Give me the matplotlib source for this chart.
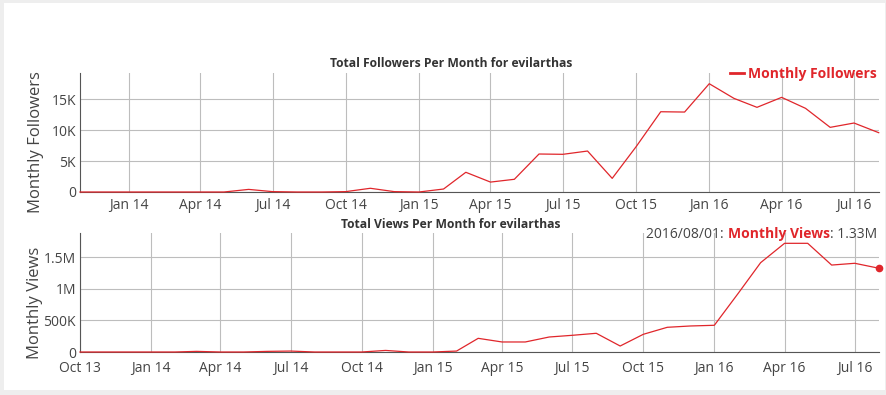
import numpy as np
import pandas as pd
import matplotlib
matplotlib.use("Agg")
import matplotlib.pyplot as plt
import matplotlib.dates as mdates
from matplotlib.offsetbox import TextArea, HPacker, AnchoredOffsetbox

plt.rcParams['font.family'] = ['Open Sans', 'DejaVu Sans']

# data (monthly)
follower_months = pd.date_range("2013-11-01", "2016-08-01", freq="MS")
followers = [0, 0, 0, 0, 0, 0, 0, 420, 60, 0, 0, 60, 600, 60, 0, 480,
             3180, 1600, 2050, 6130, 6080, 6610, 2200, 7300, 12950, 12900,
             17470, 15110, 13660, 15270, 13500, 10430, 11130, 9570]

view_months = pd.date_range("2013-10-01", "2016-08-01", freq="MS")
views = [0, 0, 0, 0, 0, 10e3, 0, 0, 10e3, 15e3, 0, 0, 0, 25e3, 0, 0, 15e3,
         217e3, 159e3, 159e3, 238e3, 265e3, 297e3, 95e3, 281e3, 392e3,
         413e3, 424e3, 932e3, 1418e3, 1725e3, 1725e3, 1380e3, 1408e3, 1330e3]

follower_ticks = [0, 5000, 10000, 15000]
follower_tick_labels = ["0", "5K", "10K", "15K"]
view_ticks = [0, 500e3, 1e6, 1.5e6]
view_tick_labels = ["0", "500K", "1M", "1.5M"]

RED = "#e0262b"
GRID = "#bdbdbd"
TXT = "#444444"

W, H = 887, 395
fig = plt.figure(figsize=(W / 100, H / 100), dpi=100)
fig.patch.set_facecolor("#eeeeee")
fig.add_artist(plt.Rectangle((4 / W, 1 - 390 / H), 881 / W, 387 / H,
                             transform=fig.transFigure, facecolor="white",
                             edgecolor="none", zorder=0))

ax1 = fig.add_axes([80 / W, 1 - 192 / H, 798.7 / W, 119 / H])
ax2 = fig.add_axes([80 / W, 1 - 352 / H, 798.7 / W, 118.7 / H])


def style(ax, ticks, labels, ymax, xmin, xticks, xpad):
    ax.set_facecolor("none")
    ax.set_ylim(0, ymax)
    ax.set_yticks(ticks)
    ax.set_yticklabels(labels)
    ax.set_xlim(pd.Timestamp(xmin), pd.Timestamp("2016-08-01"))
    ax.set_xticks(pd.to_datetime(xticks))
    ax.xaxis.set_major_formatter(mdates.DateFormatter("%b %y"))
    ax.grid(True, color=GRID, linewidth=0.8)
    ax.set_axisbelow(True)
    for s in ["top", "right"]:
        ax.spines[s].set_visible(False)
    ax.spines["left"].set_color("#555555")
    ax.spines["bottom"].set_color("#555555")
    ax.tick_params(length=0, labelsize=10, colors=TXT)
    ax.tick_params(axis="x", pad=xpad)
    ax.tick_params(axis="y", pad=3)


style(ax1, follower_ticks, follower_tick_labels, 19200, "2013-11-01",
      ["2014-01-01", "2014-04-01", "2014-07-01", "2014-10-01", "2015-01-01",
       "2015-04-01", "2015-07-01", "2015-10-01", "2016-01-01", "2016-04-01",
       "2016-07-01"], 4.5)
style(ax2, view_ticks, view_tick_labels, 1.884e6, "2013-10-01",
      ["2013-10-01", "2014-01-01", "2014-04-01", "2014-07-01", "2014-10-01",
       "2015-01-01", "2015-04-01", "2015-07-01", "2015-10-01", "2016-01-01",
       "2016-04-01", "2016-07-01"], 6.5)

# y axis titles, placed like the original (a bit below axis centre)
fig.text(36 / W, 1 - 142 / H, "Monthly Followers", rotation=90, ha="center",
         va="center", fontsize=12, color=TXT)
fig.text(35 / W, 1 - 303 / H, "Monthly Views", rotation=90, ha="center",
         va="center", fontsize=12, color=TXT)

ax1.plot(follower_months, followers, color=RED, linewidth=0.9,
         label="Monthly Followers", clip_on=False, zorder=3)
ax2.plot(view_months, views, color=RED, linewidth=0.9, clip_on=False, zorder=3)
ax2.plot(view_months[-1], views[-1], "o", color=RED, markersize=4.5,
         clip_on=False, zorder=4)

title_x = (451 - 80) / 798.7
ax1.set_title("Total Followers Per Month for evilarthas", fontsize=8.7,
              fontweight="bold", color="#333333", pad=4.5, x=title_x)
ax2.set_title("Total Views Per Month for evilarthas", fontsize=8.7,
              fontweight="bold", color="#333333", pad=4, x=title_x)

leg = ax1.legend(loc="lower right", bbox_to_anchor=(1.005, 0.888), frameon=False,
                 handlelength=1.0, handletextpad=0.3, borderaxespad=0,
                 prop={"weight": "bold", "size": 10})
for t in leg.get_texts():
    t.set_color(RED)
leg.get_lines()[0].set_linewidth(2)

# hover readout on the views chart
parts = [TextArea("2016/08/01: ", textprops=dict(color=TXT, size=10)),
         TextArea("Monthly Views", textprops=dict(color=RED, size=10, weight="bold")),
         TextArea(": 1.33M", textprops=dict(color=TXT, size=10))]
box = HPacker(children=parts, align="baseline", pad=0, sep=0)
anch = AnchoredOffsetbox(loc="lower right", child=box, pad=0, borderpad=0,
                         frameon=False, bbox_to_anchor=(0.9975, 0.93),
                         bbox_transform=ax2.transAxes)
ax2.add_artist(anch)

fig.savefig("out.png", dpi=100, facecolor=fig.get_facecolor())
